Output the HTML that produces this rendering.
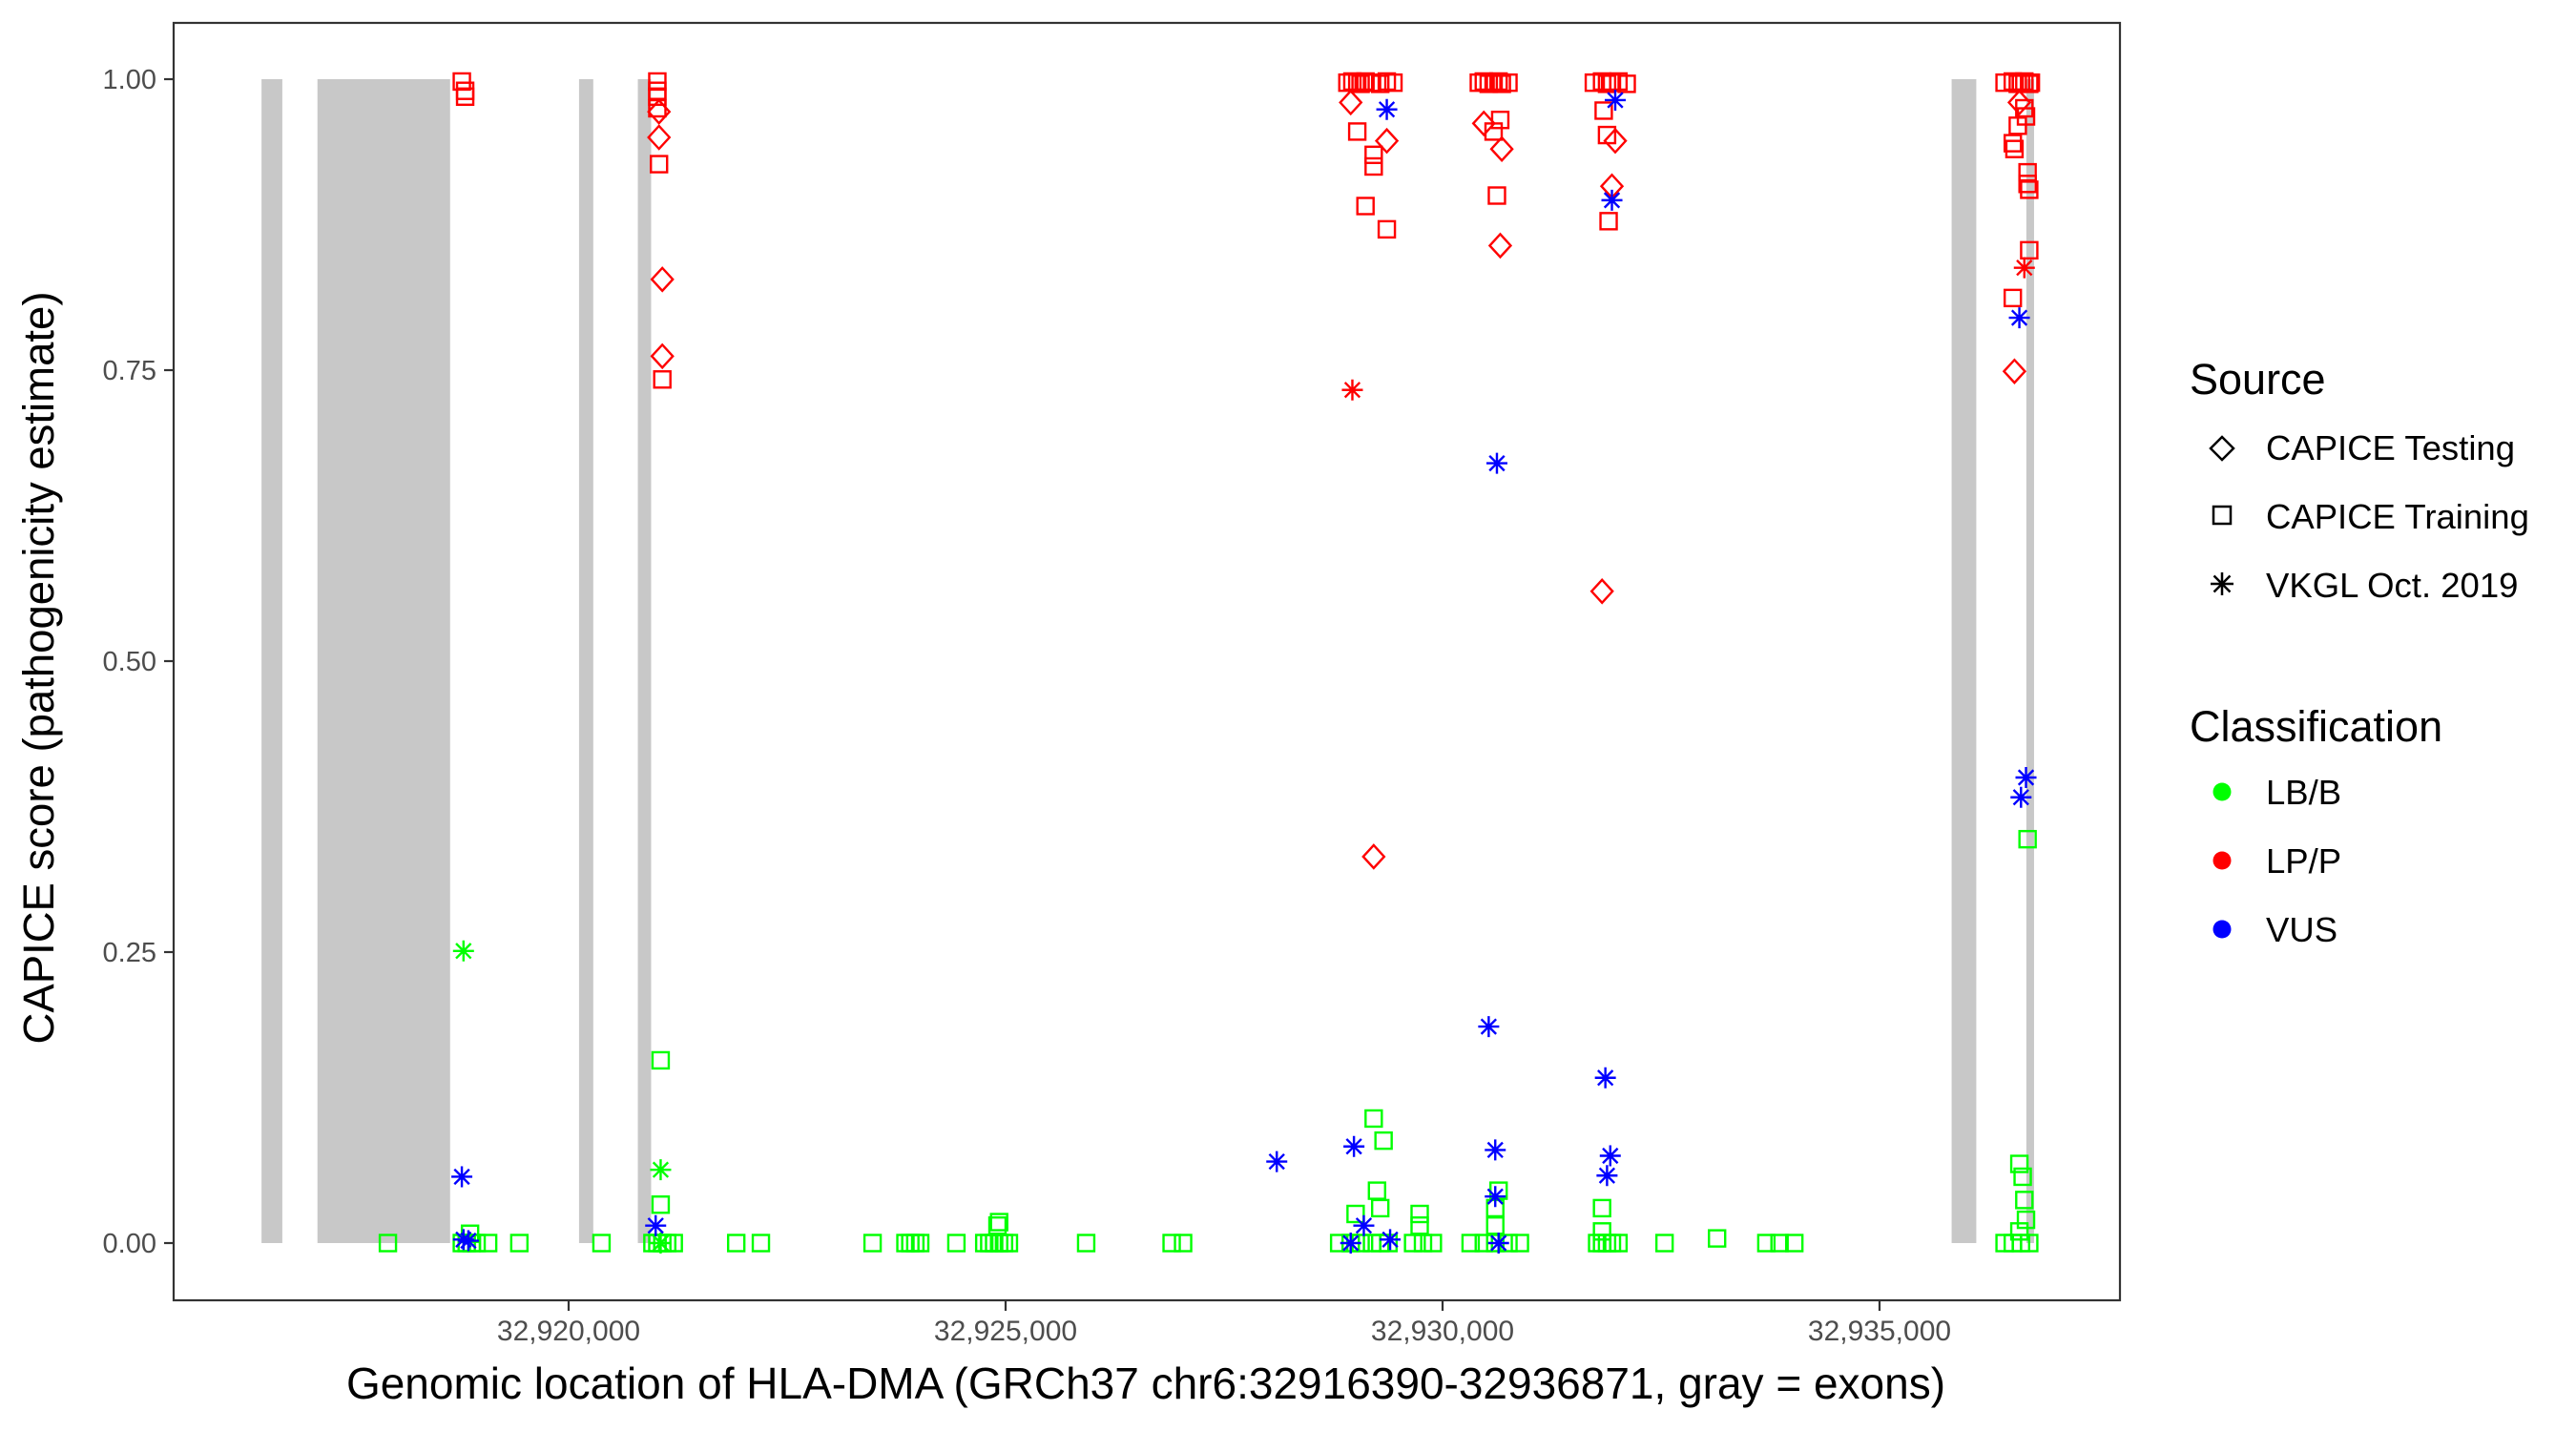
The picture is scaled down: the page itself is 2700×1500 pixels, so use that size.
<!DOCTYPE html>
<html><head><meta charset="utf-8"><style>
html,body{margin:0;padding:0;background:#fff;}
svg{display:block;font-family:"Liberation Sans",Arial,sans-serif;}
</style></head><body>
<svg id="chart" width="2700" height="1500" viewBox="0 0 2700 1500">
<g id="exons"></g>
<g id="pts"></g>
<rect x="182" y="24" width="2040" height="1339" fill="none" stroke="#333" stroke-width="2.2"/>
<g id="yticks"></g>
<g id="xticks"></g>
<text x="0" y="0" transform="translate(56,700) rotate(-90)" text-anchor="middle" font-size="45.5">CAPICE score (pathogenicity estimate)</text>
<text x="1201" y="1466" text-anchor="middle" font-size="46">Genomic location of HLA-DMA (GRCh37 chr6:32916390-32936871, gray = exons)</text>
<g>
<text x="2295" y="413" font-size="45">Source</text>
<path d="M2317,470 L2329,458 L2341,470 L2329,482 Z" fill="none" stroke="#000" stroke-width="2.5"/>
<text x="2375" y="482" font-size="36.5">CAPICE Testing</text>
<rect x="2320" y="531" width="18" height="18" fill="none" stroke="#000" stroke-width="2.5"/>
<text x="2375" y="554" font-size="36.5">CAPICE Training</text>
<g id="legAst"></g>
<text x="2375" y="626" font-size="36.5">VKGL Oct. 2019</text>
<text x="2295" y="777" font-size="45">Classification</text>
<circle cx="2329" cy="830" r="9.5" fill="#00ff00"/>
<text x="2375" y="843" font-size="36.5">LB/B</text>
<circle cx="2329" cy="902" r="9.5" fill="#ff0000"/>
<text x="2375" y="915" font-size="36.5">LP/P</text>
<circle cx="2329" cy="974" r="9.5" fill="#0000ff"/>
<text x="2375" y="987" font-size="36.5">VUS</text>
</g>
</svg>
<script>
const exonStarts=[32916486,32917126,32920119,32920792,32935825,32936680];
const exonEnds=[32916724,32918644,32920282,32920944,32936107,32936768];
const xTicks=[32920000,32925000,32930000,32935000];
const xTickLabels=["32,920,000","32,925,000","32,930,000","32,935,000"];
const yTicks=[0,0.25,0.5,0.75,1];
const yTickLabels=["0.00","0.25","0.50","0.75","1.00"];
// LB/B training (squares)
const lbTrainPos=[32917932,32918778,32918834,32918891,32918947,32919079,32919436,32920376,32920959,32921015,32921072,32921128,32921203,32921918,32922200,32923478,32923854,32923910,32923967,32924023,32924437,32924756,32924813,32924869,32924926,32924982,32925038,32925922,32926900,32927031,32928817,32928949,32929062,32929193,32929287,32929381,32929663,32929776,32929889,32930321,32930472,32930603,32930754,32930885,32931769,32931825,32931882,32931938,32932013,32932540,32933141,32933705,32933856,32934025,32936431,32936525,32936619,32936713,
32918872,32921053,32921053,32924907,32924926,32929212,32929325,32929250,32929005,32929287,32929738,32929738,32930641,32930603,32930603,32931825,32931825,32936600,32936638,32936657,32936676,32936694,32936600];
const lbTrainScore=[0,0,0,0,0,0,0,0,0,0,0,0,0,0,0,0,0,0,0,0,0,0,0,0,0,0,0,0,0,0,0,0,0,0,0,0,0,0,0,0,0,0,0,0,0,0,0,0,0,0,0.004,0,0,0,0,0,0,0,
0.008,0.157,0.033,0.015,0.018,0.107,0.088,0.045,0.025,0.03,0.025,0.015,0.045,0.03,0.015,0.03,0.01,0.068,0.057,0.037,0.02,0.347,0.01];
// LB/B VKGL (asterisks)
const lbVkglPos=[32918797,32921053,32921053];
const lbVkglScore=[0.251,0.063,0];
// VUS VKGL (asterisks)
const vusVkglPos=[32918778,32918797,32918853,32920996,32928103,32928986,32929099,32928949,32929400,32929362,32930528,32930603,32930603,32930641,32931863,32931919,32931882,32931976,32931938,32930622,32936600,32936619,32936676];
const vusVkglScore=[0.057,0.003,0.002,0.015,0.07,0.083,0.015,0,0.003,0.974,0.186,0.08,0.04,0,0.142,0.075,0.058,0.982,0.896,0.67,0.795,0.383,0.4];
// LP/P training (squares)
const lpTrainPos=[32918778,32918816,32918816,32921015,32921015,32921015,32921015,32921034,32921072,
32928911,32928968,32929024,32929062,32929118,32929193,32929287,32929362,32929438,32929024,32929118,32929362,32929212,32929212,
32930415,32930472,32930528,32930584,32930641,32930678,32930754,32930622,32930660,32930584,
32931731,32931825,32931882,32931938,32932013,32932107,32931882,32931900,32931844,
32936431,32936525,32936582,32936619,32936657,32936713,32936732,32936525,32936544,32936525,32936713,32936694,32936694,32936713,32936657,32936676,32936582];
const lpTrainScore=[0.998,0.99,0.985,0.998,0.99,0.985,0.975,0.927,0.742,
0.997,0.998,0.997,0.996,0.998,0.997,0.996,0.998,0.997,0.955,0.891,0.871,0.935,0.925,
0.997,0.998,0.996,0.997,0.998,0.996,0.997,0.9,0.965,0.955,
0.997,0.998,0.996,0.997,0.998,0.996,0.952,0.878,0.973,
0.997,0.998,0.996,0.997,0.998,0.996,0.997,0.945,0.94,0.812,0.853,0.92,0.91,0.905,0.975,0.968,0.96];
// LP/P testing (diamonds)
const lpTestPos=[32921034,32921034,32921072,32921072,32928949,32929362,32929212,32930472,32930678,32930660,32931825,32931976,32931938,32936544,32936600];
const lpTestScore=[0.95,0.972,0.828,0.762,0.98,0.947,0.332,0.962,0.94,0.857,0.56,0.947,0.908,0.749,0.98];
// LP/P VKGL (asterisks)
const lpVkglPos=[32928968,32936657];
const lpVkglScore=[0.733,0.838];

const NS="http://www.w3.org/2000/svg";
const X0=32920000, PX0=596, PXPERBP=0.0916;
const Y0=1303, Y1=83;
function xs(bp){return PX0+(bp-X0)*PXPERBP;}
function ys(v){return Y0-(Y0-Y1)*v;}
function mk(tag,attrs,parent){const e=document.createElementNS(NS,tag);for(const k in attrs)e.setAttribute(k,attrs[k]);parent.appendChild(e);return e;}

const gEx=document.getElementById('exons');
for(let i=0;i<exonStarts.length;i++){
  const r=mk('rect',{x:xs(exonStarts[i]),y:ys(1),width:xs(exonEnds[i])-xs(exonStarts[i]),height:ys(0)-ys(1),fill:'#c8c8c8'},gEx);
  
  
}
const gY=document.getElementById('yticks');
yTicks.forEach((v,i)=>{
  const l=mk('line',{x1:172,x2:182,y1:ys(v),y2:ys(v),stroke:'#333','stroke-width':2.2},gY);
  
  
  const t=mk('text',{x:164,y:ys(v)+10,'text-anchor':'end','font-size':29,fill:'#4d4d4d'},gY);
  t.textContent=yTickLabels[i];
  
  
});
const gX=document.getElementById('xticks');
xTicks.forEach((v,i)=>{
  const l=mk('line',{x1:xs(v),x2:xs(v),y1:1363,y2:1374,stroke:'#333','stroke-width':2.2},gX);
  
  
  const t=mk('text',{x:xs(v),y:1405,'text-anchor':'middle','font-size':30,fill:'#4d4d4d'},gX);
  t.textContent=xTickLabels[i];
  
  
});

function astPath(cx,cy,r){
  let d='';
  for(let a=0;a<4;a++){const ang=a*Math.PI/4;const dx=r*Math.sin(ang),dy=r*Math.cos(ang);
    d+=`M${cx-dx},${cy-dy}L${cx+dx},${cy+dy}`;}
  return d;
}
const gP=document.getElementById('pts');
function square(pos,sc,col,name){pos.forEach((p,i)=>{
  const e=mk('rect',{x:xs(p)-8.5,y:ys(sc[i])-8.5,width:17,height:17,fill:'none',stroke:col,'stroke-width':2.4},gP);
  
  
});}
function diamond(pos,sc,col,name){pos.forEach((p,i)=>{
  const x=xs(p),y=ys(sc[i]);
  const e=mk('path',{d:`M${x-11},${y}L${x},${y-12}L${x+11},${y}L${x},${y+12}Z`,fill:'none',stroke:col,'stroke-width':2.4},gP);
  
  
});}
function aster(pos,sc,col,name){pos.forEach((p,i)=>{
  const e=mk('path',{d:astPath(xs(p),ys(sc[i]),11),fill:'none',stroke:col,'stroke-width':2.4},gP);
  
  
});}
square(lbTrainPos,lbTrainScore,'#00ff00','lbb-training-point');
aster(lbVkglPos,lbVkglScore,'#00ff00','lbb-vkgl-point');
square(lpTrainPos,lpTrainScore,'#ff0000','lpp-training-point');
diamond(lpTestPos,lpTestScore,'#ff0000','lpp-testing-point');
aster(lpVkglPos,lpVkglScore,'#ff0000','lpp-vkgl-point');
aster(vusVkglPos,vusVkglScore,'#0000ff','vus-vkgl-point');
mk('path',{d:astPath(2329,612,12),stroke:'#000','stroke-width':2.5,fill:'none'},document.getElementById('legAst'));
</script>
</body></html>
